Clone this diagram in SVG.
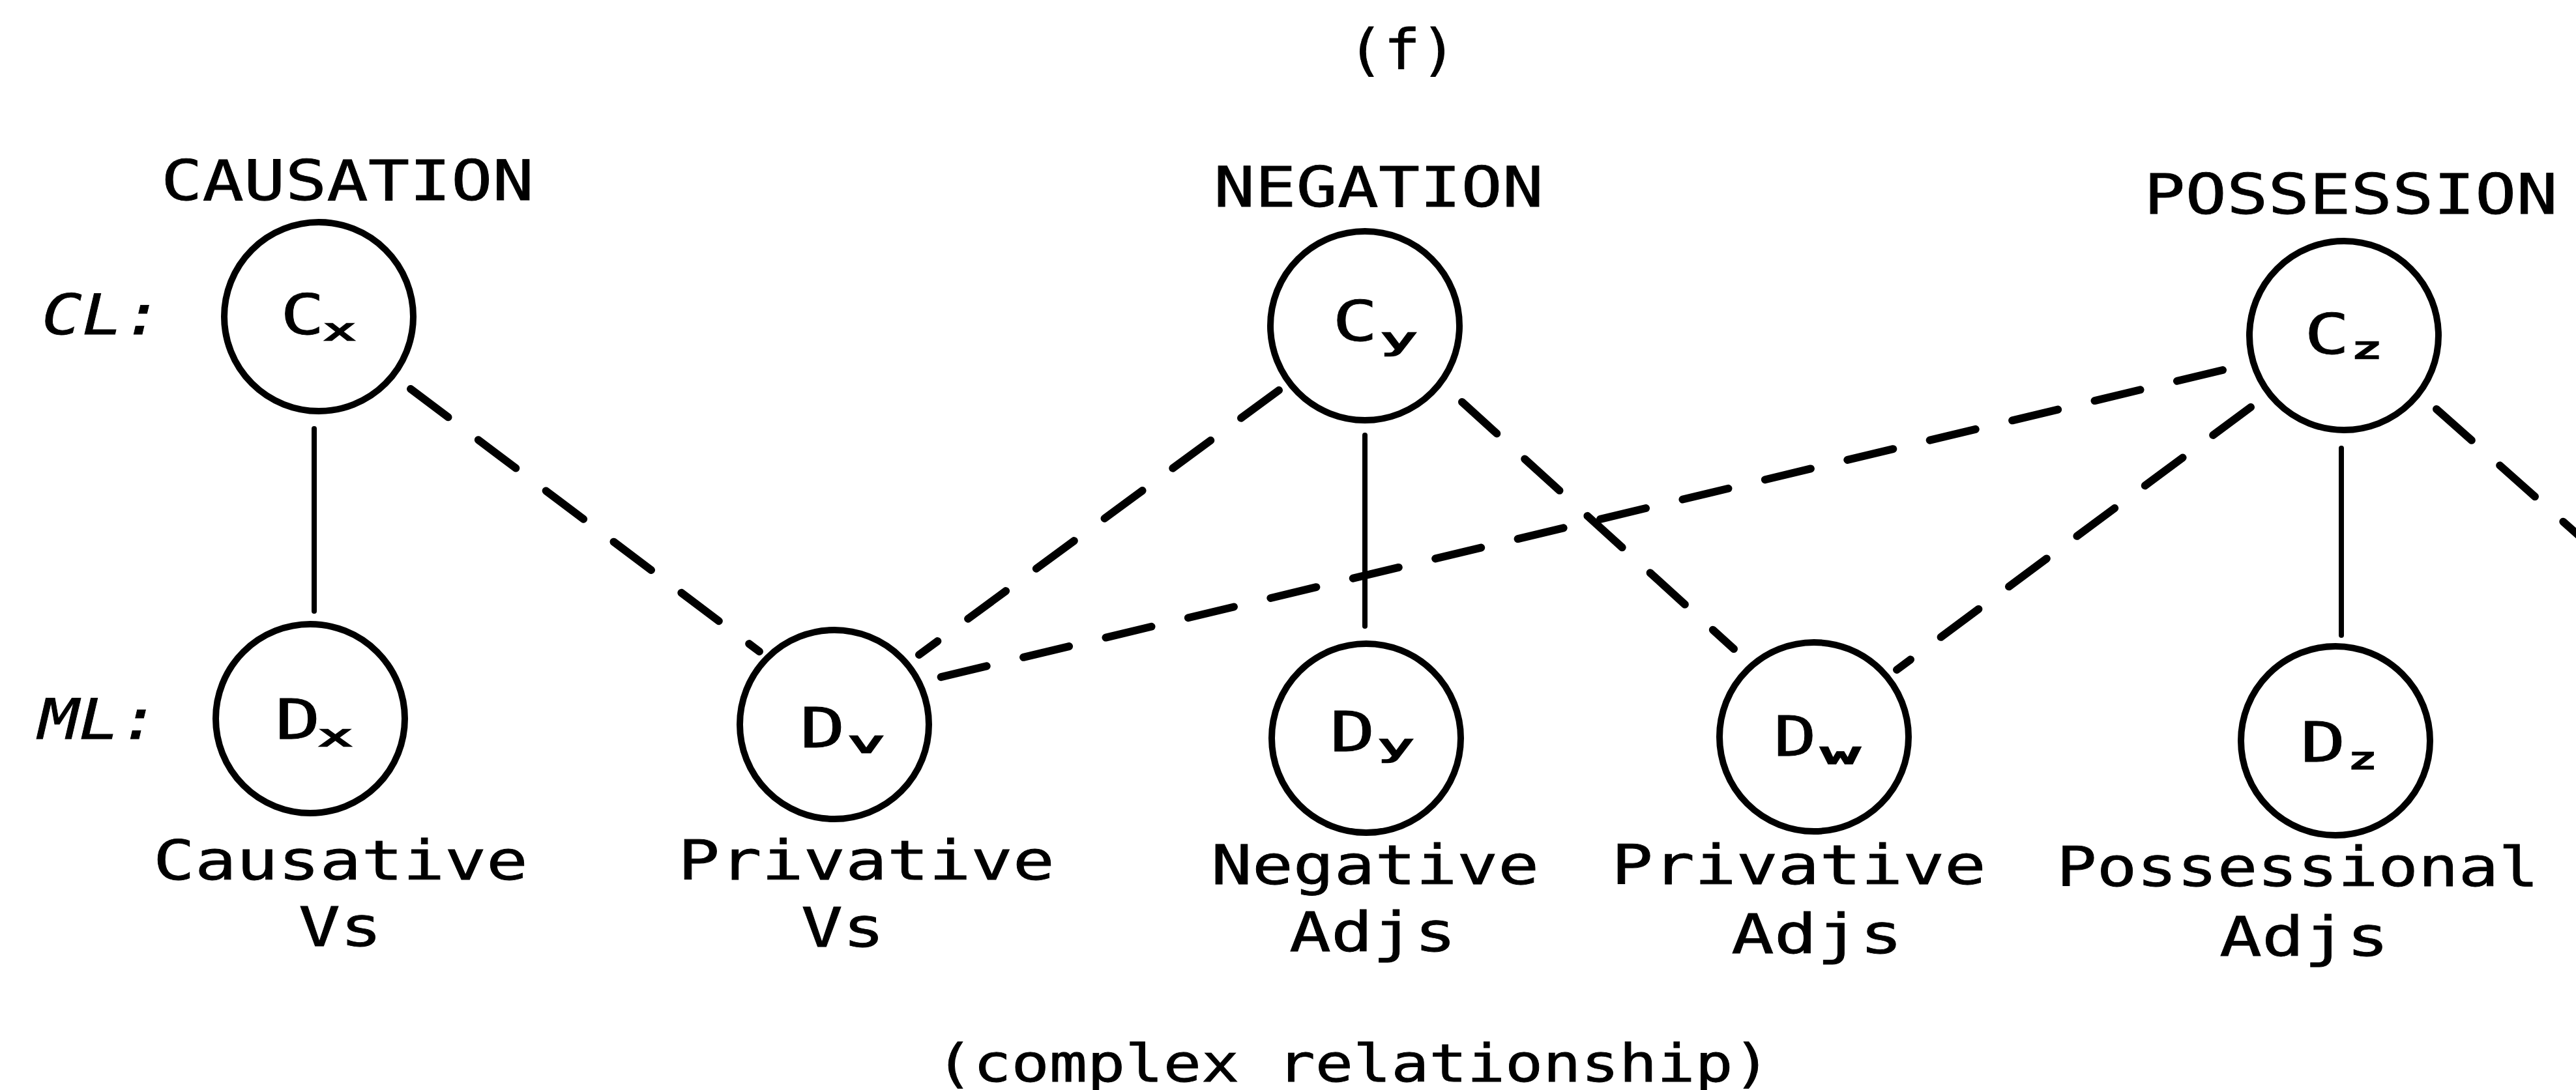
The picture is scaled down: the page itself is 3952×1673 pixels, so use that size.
<svg xmlns="http://www.w3.org/2000/svg" width="3952" height="1673" viewBox="0 0 3952 1673">
  <style>
    .t { font-family: "DejaVu Sans Mono", "Liberation Mono", monospace; font-size: 86px; fill: #000; stroke: #000; stroke-width: 0.8; }
    .it { font-style: italic; }
    .sub { font-size: 46px; stroke-width: 2.5; }
    .cap { font-size: 84px; }
    .foot { font-size: 80px; }
    .ring { fill: none; stroke: #000; stroke-width: 10; }
    .solid { stroke: #000; stroke-width: 8; stroke-linecap: round; fill: none; }
    .dash { stroke: #000; stroke-width: 12; stroke-linecap: round; stroke-dasharray: 72 58; fill: none; }
  </style>
  <rect width="3952" height="1673" fill="#fff"/>

  <!-- figure label -->
  <text class="t" x="2067" y="106" textLength="168" lengthAdjust="spacingAndGlyphs">(f)</text>

  <!-- level labels -->
  <text class="t it" x="64" y="513" textLength="186" lengthAdjust="spacingAndGlyphs">CL:</text>
  <text class="t it" x="59" y="1134" textLength="186" lengthAdjust="spacingAndGlyphs">ML:</text>

  <!-- connectors -->
  <g id="connectors">
    <line class="solid" x1="482" y1="658" x2="482" y2="938"/>
    <line class="solid" x1="2094" y1="668" x2="2094" y2="961"/>
    <line class="solid" x1="3592" y1="688" x2="3592" y2="975"/>
    <line class="dash" x1="630" y1="597" x2="1165" y2="1000"/>
    <line class="dash" x1="1962" y1="599" x2="1410" y2="1005"/>
    <line class="dash" x1="3410" y1="568" x2="1440" y2="1040"/>
    <line class="dash" x1="2243" y1="617" x2="2660" y2="996"/>
    <line class="dash" x1="3453" y1="625" x2="2910" y2="1028"/>
    <line class="dash" x1="3738" y1="628" x2="3990" y2="852"/>
  </g>

  <!-- conceptual level -->
  <g id="node-cx">
    <text class="t" x="247" y="307" textLength="572" lengthAdjust="spacingAndGlyphs">CAUSATION</text>
    <circle class="ring" cx="489" cy="486" r="145"/>
    <text class="t" x="430" y="513" textLength="68" lengthAdjust="spacingAndGlyphs">C</text>
    <text class="t sub" x="497" y="522" textLength="48" lengthAdjust="spacingAndGlyphs">x</text>
  </g>
  <g id="node-cy">
    <text class="t" x="1862" y="317" textLength="506" lengthAdjust="spacingAndGlyphs">NEGATION</text>
    <circle class="ring" cx="2094" cy="500" r="145"/>
    <text class="t" x="2044" y="523" textLength="70" lengthAdjust="spacingAndGlyphs">C</text>
    <text class="t sub" x="2118" y="536" textLength="56" lengthAdjust="spacingAndGlyphs">y</text>
  </g>
  <g id="node-cz">
    <text class="t" x="3289" y="328" textLength="635" lengthAdjust="spacingAndGlyphs">POSSESSION</text>
    <circle class="ring" cx="3596" cy="515" r="145"/>
    <text class="t" x="3535" y="543" textLength="70" lengthAdjust="spacingAndGlyphs">C</text>
    <text class="t sub" x="3607" y="550" textLength="48" lengthAdjust="spacingAndGlyphs">z</text>
  </g>

  <!-- morphological level -->
  <g id="node-dx">
    <circle class="ring" cx="476" cy="1103" r="145"/>
    <text class="t" x="422" y="1134" textLength="70" lengthAdjust="spacingAndGlyphs">D</text>
    <text class="t sub" x="489" y="1145" textLength="51" lengthAdjust="spacingAndGlyphs">x</text>
    <text class="t cap" x="235" y="1350" textLength="575" lengthAdjust="spacingAndGlyphs">Causative</text>
    <text class="t cap" x="458" y="1452" textLength="128" lengthAdjust="spacingAndGlyphs">Vs</text>
  </g>
  <g id="node-dv">
    <circle class="ring" cx="1280" cy="1112" r="145"/>
    <text class="t" x="1227" y="1147" textLength="70" lengthAdjust="spacingAndGlyphs">D</text>
    <text class="t sub" x="1301" y="1155" textLength="56" lengthAdjust="spacingAndGlyphs">v</text>
    <text class="t cap" x="1040" y="1350" textLength="578" lengthAdjust="spacingAndGlyphs">Privative</text>
    <text class="t cap" x="1229" y="1453" textLength="128" lengthAdjust="spacingAndGlyphs">Vs</text>
  </g>
  <g id="node-dy">
    <circle class="ring" cx="2096" cy="1133" r="145"/>
    <text class="t" x="2040" y="1153" textLength="70" lengthAdjust="spacingAndGlyphs">D</text>
    <text class="t sub" x="2114" y="1160" textLength="55" lengthAdjust="spacingAndGlyphs">y</text>
    <text class="t cap" x="1858" y="1357" textLength="503" lengthAdjust="spacingAndGlyphs">Negative</text>
    <text class="t cap" x="1978" y="1460" textLength="256" lengthAdjust="spacingAndGlyphs">Adjs</text>
  </g>
  <g id="node-dw">
    <circle class="ring" cx="2783" cy="1131" r="145"/>
    <text class="t" x="2721" y="1160" textLength="66" lengthAdjust="spacingAndGlyphs">D</text>
    <text class="t sub" x="2794" y="1172" textLength="59" lengthAdjust="spacingAndGlyphs">w</text>
    <text class="t cap" x="2472" y="1357" textLength="575" lengthAdjust="spacingAndGlyphs">Privative</text>
    <text class="t cap" x="2656" y="1463" textLength="263" lengthAdjust="spacingAndGlyphs">Adjs</text>
  </g>
  <g id="node-dz">
    <circle class="ring" cx="3583" cy="1137" r="145"/>
    <text class="t" x="3529" y="1169" textLength="70" lengthAdjust="spacingAndGlyphs">D</text>
    <text class="t sub" x="3602" y="1180" textLength="45" lengthAdjust="spacingAndGlyphs">z</text>
    <text class="t cap" x="3155" y="1360" textLength="740" lengthAdjust="spacingAndGlyphs">Possessional</text>
    <text class="t cap" x="3405" y="1467" textLength="260" lengthAdjust="spacingAndGlyphs">Adjs</text>
  </g>

  <!-- caption -->
  <text class="t foot" x="1435" y="1660" textLength="1282" lengthAdjust="spacingAndGlyphs">(complex relationship)</text>
</svg>
